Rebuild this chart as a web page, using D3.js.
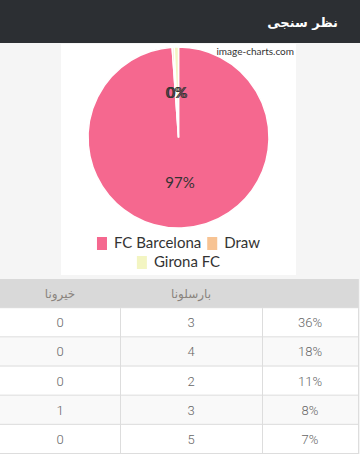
<!DOCTYPE html>
<html>
<head>
<meta charset="utf-8">
<script src="https://cdn.jsdelivr.net/npm/d3@7"></script>
<style>
  html, body { margin: 0; padding: 0; background: #f5f5f5; }
  svg { display: block; }
</style>
</head>
<body>
<div id="chart"></div>
<script>
    const W = 360, H = 454;

    // poll data
    const teams = ["FC Barcelona", "Draw", "Girona FC"];
    const shares = [97, 0.35, 0.75];
    const shareLabels = ["97%", "0%", "0%"];
    const teamColors = ["#f5688f", "#f7c393", "#f3f5c2"];

    // score predictions table
    const tableHeaders = ["خیرونا", "بارسلونا", ""];
    const gironaGoals = [0, 0, 0, 1, 0];
    const barcaGoals = [3, 4, 2, 3, 5];
    const scorePcts = ["36%", "18%", "11%", "8%", "7%"];

    var svg = d3.select("#chart").append("svg")
        .attr("width", W)
        .attr("height", H);

    // header bar
    svg.append("rect").attr("x", 0).attr("y", 0).attr("width", W).attr("height", 43)
        .attr("fill", "#2c2f33");
    svg.append("text")
        .attr("x", 338).attr("y", 27)
        .attr("text-anchor", "end")
        .attr("font-family", "DejaVu Sans")
        .attr("font-weight", "bold")
        .attr("font-size", 13)
        .attr("fill", "#ffffff")
        .text("نظر سنجی");

    // image area
    svg.append("rect").attr("x", 61).attr("y", 44).attr("width", 235).attr("height", 231)
        .attr("fill", "#ffffff");

    svg.append("text")
        .attr("x", 294).attr("y", 55)
        .attr("text-anchor", "end")
        .attr("font-family", "Lato")
        .attr("font-size", 10)
        .attr("fill", "#333")
        .text("image-charts.com");

    // pie
    var cx = 178.5, cy = 137.5, R = 90.5;
    var pie = d3.pie().sort(null).value(d => d);
    var arc = d3.arc().innerRadius(0).outerRadius(R);
    var labelArc = d3.arc().innerRadius(R / 2).outerRadius(R / 2);
    var arcs = pie(shares);

    var g = svg.append("g").attr("transform", `translate(${cx},${cy})`);
    g.selectAll("path")
        .data(arcs)
        .enter().append("path")
        .attr("d", arc)
        .attr("fill", (d, i) => teamColors[i])
        .attr("stroke", "#fff")
        .attr("stroke-width", 1.5);

    g.selectAll("text")
        .data(arcs)
        .enter().append("text")
        .attr("transform", d => `translate(${labelArc.centroid(d)})`)
        .attr("text-anchor", "middle")
        .attr("dy", "0.35em")
        .attr("font-family", "Lato")
        .attr("font-size", 15)
        .attr("fill", "#333")
        .text((d, i) => shareLabels[i]);

    // legend, two centered rows
    var legendRows = [[0, 1], [2]];
    var legendY = [243, 262];
    legendRows.forEach((row, r) => {
        var lg = svg.append("g");
        var x = 0;
        row.forEach(i => {
            lg.append("rect")
                .attr("x", x).attr("y", -6).attr("width", 10).attr("height", 13)
                .attr("fill", teamColors[i]);
            var t = lg.append("text")
                .attr("x", x + 17).attr("y", 0)
                .attr("dy", "0.35em")
                .attr("font-family", "Lato")
                .attr("font-size", 15)
                .attr("fill", "#333")
                .text(teams[i]);
            x += 17 + t.node().getComputedTextLength() + 6;
        });
        x -= 6;
        lg.attr("transform", `translate(${cx - x / 2},${legendY[r]})`);
    });

    // table
    var colEdges = [0, 120, 262, 358];
    var rowY = d3.scaleBand()
        .domain(d3.range(scorePcts.length + 1))
        .range([279, 454])
        .padding(0);

    var tbl = svg.append("g");
    tbl.append("rect")
        .attr("x", 0).attr("y", rowY(0)).attr("width", 358).attr("height", rowY.bandwidth())
        .attr("fill", "#d9d9d9");
    d3.range(scorePcts.length).forEach(i => {
        tbl.append("rect")
            .attr("x", 0).attr("y", rowY(i + 1)).attr("width", 358).attr("height", rowY.bandwidth())
            .attr("fill", i % 2 === 1 ? "#f9f9f9" : "#ffffff");
    });

    // grid lines
    d3.range(1, scorePcts.length + 2).forEach(i => {
        var y = (i <= scorePcts.length ? rowY(i) : 454) - 0.5;
        tbl.append("line")
            .attr("x1", 0).attr("x2", 358).attr("y1", y).attr("y2", y)
            .attr("stroke", "#dddddd");
    });
    colEdges.slice(1).forEach(x => {
        tbl.append("line")
            .attr("x1", x + 0.5).attr("x2", x + 0.5).attr("y1", rowY(1)).attr("y2", 454)
            .attr("stroke", "#dddddd");
    });
    tbl.append("line")
        .attr("x1", 358.5).attr("x2", 358.5).attr("y1", rowY(0)).attr("y2", rowY(1))
        .attr("stroke", "#dddddd");

    var colMid = i => (colEdges[i] + colEdges[i + 1]) / 2;

    tableHeaders.forEach((h, i) => {
        tbl.append("text")
            .attr("x", colMid(i)).attr("y", rowY(0) + rowY.bandwidth() / 2)
            .attr("dy", "0.35em")
            .attr("text-anchor", "middle")
            .attr("font-family", "DejaVu Sans")
            .attr("font-size", 12)
            .attr("fill", "#8a847e")
            .text(h);
    });

    var cols = [gironaGoals, barcaGoals, scorePcts];
    cols.forEach((vals, c) => {
        tbl.selectAll(null)
            .data(vals)
            .enter().append("text")
            .attr("x", colMid(c))
            .attr("y", (d, i) => rowY(i + 1) + rowY.bandwidth() / 2)
            .attr("dy", "0.35em")
            .attr("text-anchor", "middle")
            .attr("font-family", "Roboto")
            .attr("font-weight", 300)
            .attr("font-size", 13)
            .attr("fill", "#666")
            .text(d => d);
    });
</script>
</body>
</html>
